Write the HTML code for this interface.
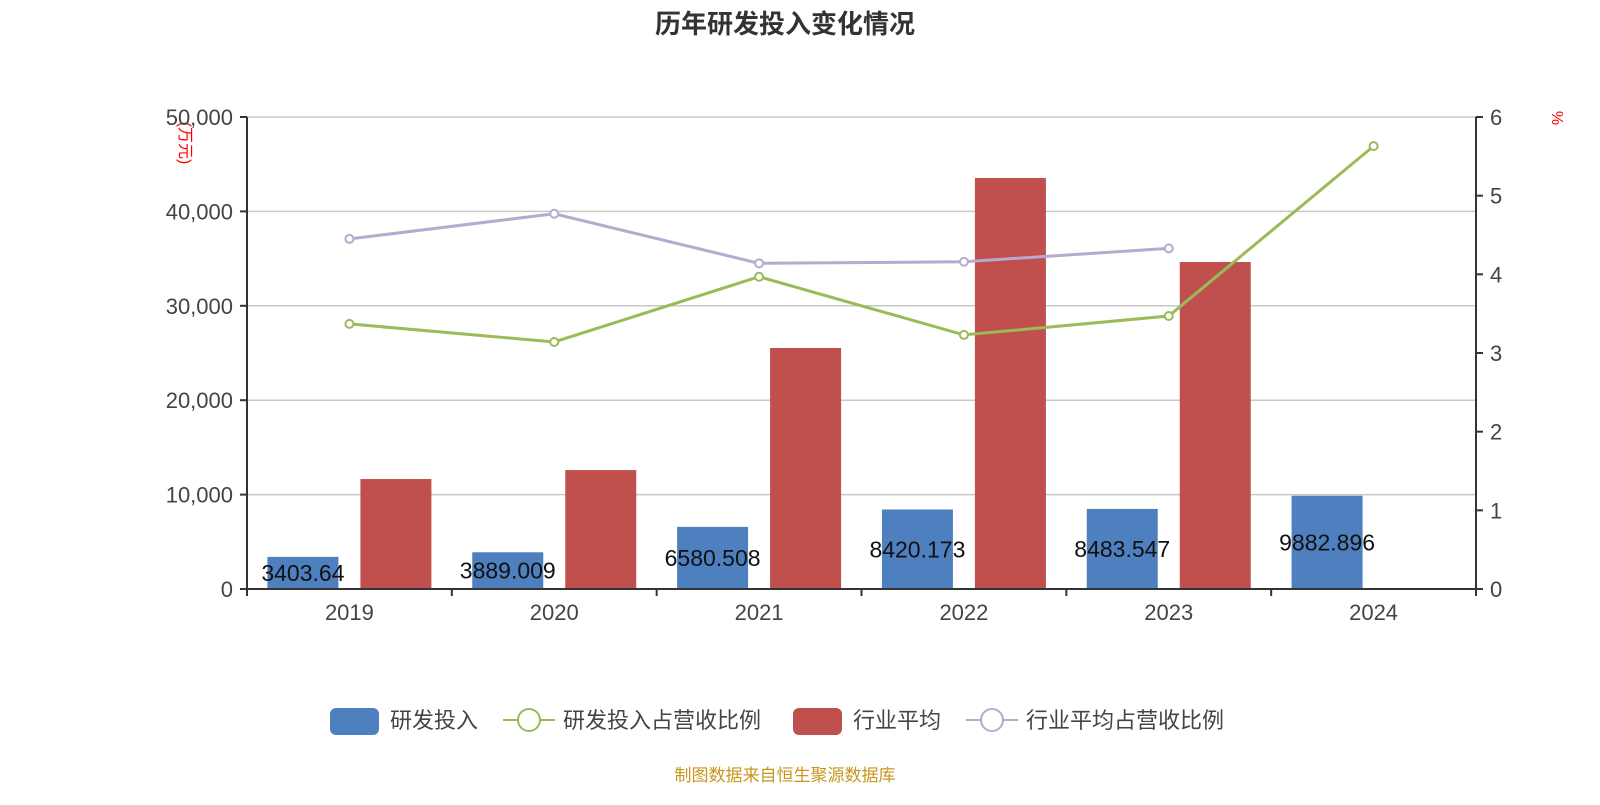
<!DOCTYPE html>
<html><head><meta charset="utf-8"><style>
body{margin:0;background:#fff;}
svg text{font-family:"Liberation Sans","Noto Sans CJK SC",sans-serif;}
</style></head><body>
<svg id="c" width="1600" height="800" xmlns="http://www.w3.org/2000/svg">
<text x="785" y="33" text-anchor="middle" font-size="26" font-weight="bold" fill="#333">历年研发投入变化情况</text>
<text transform="translate(180,143) rotate(90)" font-size="16" fill="red" text-anchor="middle">(万元)</text>
<text x="1552" y="118" font-size="16" fill="red" text-anchor="middle" transform="rotate(90 1552 118)">%</text>
<g id="grid"></g><g id="bars"></g><g id="lines"></g><g id="axes"></g>
<g>
<rect x="330" y="708" width="49" height="27" rx="6" fill="#4e7fbf"/>
<text x="390" y="728" font-size="22" fill="#444">研发投入</text>
<line x1="503" y1="720" x2="555" y2="720" stroke="#9bbb59" stroke-width="2"/><circle cx="529" cy="720" r="11" fill="#fff" stroke="#9bbb59" stroke-width="2"/>
<text x="563" y="728" font-size="22" fill="#444">研发投入占营收比例</text>
<rect x="793" y="708" width="49" height="27" rx="6" fill="#c0504d"/>
<text x="853" y="728" font-size="22" fill="#444">行业平均</text>
<line x1="966" y1="720" x2="1018" y2="720" stroke="#b7a9d0" stroke-width="2"/><circle cx="992" cy="720" r="11" fill="#fff" stroke="#b7a9d0" stroke-width="2"/>
<text x="1026" y="728" font-size="22" fill="#444">行业平均占营收比例</text>
</g>
<text x="785" y="781" text-anchor="middle" font-size="17" fill="#c8961e">制图数据来自恒生聚源数据库</text>
</svg>
<script>
const categories=["2019","2020","2021","2022","2023","2024"];
const rdValues=[3403.64,3889.009,6580.508,8420.173,8483.547,9882.896];
const rdLabels=["3403.64","3889.009","6580.508","8420.173","8483.547","9882.896"];
const industryValues=[11650,12600,25530,43540,34640,null];
const rdRatio=[3.37,3.14,3.97,3.23,3.47,5.63];
const industryRatio=[4.45,4.77,4.14,4.16,4.33,null];
const leftTicks=[0,10000,20000,30000,40000,50000];
const rightTicks=[0,1,2,3,4,5,6];
const NS="http://www.w3.org/2000/svg";
const X0=247,X1=1476,Y0=589,Y1=117;
const bw=(X1-X0)/categories.length;
const yL=v=>Y0-(v/50000)*(Y0-Y1);
const yR=v=>Y0-(v/6)*(Y0-Y1);
const xC=i=>X0+bw*(i+0.5);
function mk(tag,attrs,parent){const e=document.createElementNS(NS,tag);for(const k in attrs)e.setAttribute(k,attrs[k]);document.getElementById(parent).appendChild(e);return e;}
leftTicks.forEach(t=>{
 if(t>0){const g=mk('line',{x1:X0,x2:X1,y1:yL(t),y2:yL(t),stroke:'#c8c8c8','stroke-width':1.5},'grid');
 
 }
 const tx=mk('text',{x:X0-14,y:yL(t)+8,'text-anchor':'end','font-size':22,fill:'#444'},'axes');tx.textContent=t.toLocaleString('en-US');
 
 
 mk('line',{x1:X0-7,x2:X0,y1:yL(t),y2:yL(t),stroke:'#333','stroke-width':2},'axes');
});
rightTicks.forEach(t=>{
 const tx=mk('text',{x:X1+14,y:yR(t)+8,'font-size':22,fill:'#444'},'axes');tx.textContent=t;
 
 
 mk('line',{x1:X1,x2:X1+7,y1:yR(t),y2:yR(t),stroke:'#333','stroke-width':2},'axes');
});
mk('line',{x1:X0,x2:X0,y1:Y1,y2:Y0,stroke:'#333','stroke-width':2},'axes');
mk('line',{x1:X1,x2:X1,y1:Y1,y2:Y0,stroke:'#333','stroke-width':2},'axes');
mk('line',{x1:X0,x2:X1,y1:Y0,y2:Y0,stroke:'#333','stroke-width':2},'axes');
for(let i=0;i<=categories.length;i++)mk('line',{x1:X0+bw*i,x2:X0+bw*i,y1:Y0,y2:Y0+7,stroke:'#333','stroke-width':2},'axes');
categories.forEach((c,i)=>{
 const tx=mk('text',{x:xC(i),y:620,'text-anchor':'middle','font-size':22,fill:'#444'},'axes');tx.textContent=c;
 
 
 const w=71;
 const b=mk('rect',{x:xC(i)-46.5-w/2,y:yL(rdValues[i]),width:w,height:Y0-yL(rdValues[i]),fill:'#4e7fbf'},'bars');
 
 
 if(industryValues[i]!=null){const r=mk('rect',{x:xC(i)+46.5-w/2,y:yL(industryValues[i]),width:w,height:Y0-yL(industryValues[i]),fill:'#c0504d'},'bars');
 
 }
});
categories.forEach((c,i)=>{
 const my=(yL(rdValues[i])+Y0)/2;
 const t=mk('text',{x:xC(i)-46.5,y:my+8,'text-anchor':'middle','font-size':23,fill:'#111'},'lines');t.textContent=rdLabels[i];
 
 
});
function line(vals,color,name){
 const pts=[];vals.forEach((v,i)=>{if(v!=null)pts.push([xC(i),yR(v)]);});
 const p=mk('polyline',{points:pts.map(p=>p.join(',')).join(' '),fill:'none',stroke:color,'stroke-width':3},'lines');
 
 
 pts.forEach(q=>{const c=mk('circle',{cx:q[0],cy:q[1],r:4,fill:'#fff',stroke:color,'stroke-width':2},'lines');
 
 });
}
line(industryRatio,'#b7a9d0','industry-ratio');
line(rdRatio,'#9bbb59','rd-ratio');
</script>
</body></html>
